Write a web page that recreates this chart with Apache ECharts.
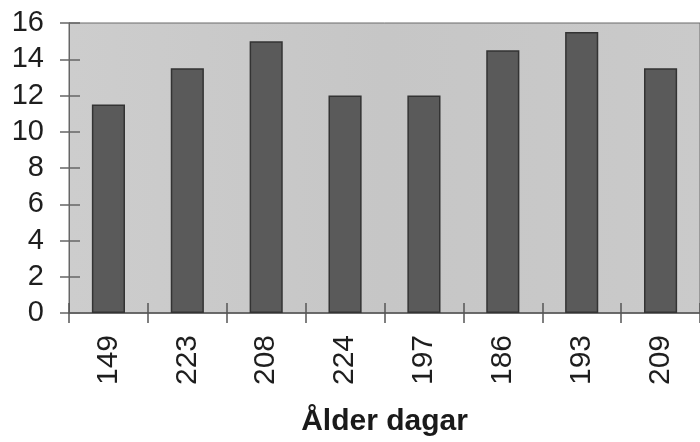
<!DOCTYPE html>
<html>
<head>
<meta charset="utf-8">
<script src="https://cdn.jsdelivr.net/npm/echarts@6/dist/echarts.min.js"></script>
<style>
  html, body { margin: 0; padding: 0; background: #fff; }
  #main { width: 700px; height: 442px; }
</style>
</head>
<body>
<div id="main"></div>
<script>
// ålder (dagar) per individ och stapelvärde
const categories = ["149", "223", "208", "224", "197", "186", "193", "209"];
const values = [11.5, 13.5, 15, 12, 12, 14.5, 15.5, 13.5];
const yTicks = { min: 0, max: 16, interval: 2 };

const myChart = echarts.init(document.querySelector("#main"));

const labelFont = "Liberation Sans, Arial, sans-serif";

const option = {
  animation: false,
  grid: {
    left: 69,
    top: 23,
    width: 638,
    bottom: 129,
    show: true,
    borderColor: "#6a6a6a",
    borderWidth: 1,
    backgroundColor: {
      type: "linear",
      x: 0, y: 0, x2: 1, y2: 0,
      colorStops: [
        { offset: 0, color: "#cdcdcd" },
        { offset: 0.5, color: "#c6c6c6" },
        { offset: 1, color: "#cacaca" },
      ],
    },
  },
  xAxis: [
    {
      type: "category",
      data: categories,
      axisLine: { show: true, lineStyle: { color: "#555", width: 1.5 } },
      axisTick: { show: true, length: 10, lineStyle: { color: "#555", width: 1.5 } },
      axisLabel: {
        rotate: 90,
        margin: 22,
        fontSize: 30,
        color: "#1e1e1e",
        fontFamily: labelFont,
      },
      name: "Ålder dagar",
      nameLocation: "middle",
      nameGap: 94,
      nameTextStyle: {
        fontSize: 30,
        fontWeight: "bold",
        color: "#1a1a1a",
        fontFamily: labelFont,
      },
    },
    {
      type: "category",
      data: categories,
      position: "bottom",
      axisLine: { show: false },
      axisTick: { show: true, inside: true, length: 10, lineStyle: { color: "#555", width: 1.5 } },
      axisLabel: { show: false },
    },
  ],
  yAxis: [
    {
      type: "value",
      min: yTicks.min,
      max: yTicks.max,
      interval: yTicks.interval,
      splitLine: { show: false },
      axisLine: { show: true, lineStyle: { color: "#666", width: 1 } },
      axisTick: { show: true, length: 9, lineStyle: { color: "#666", width: 1.5 } },
      axisLabel: {
        margin: 25,
        fontSize: 29,
        color: "#1e1e1e",
        fontFamily: labelFont,
      },
    },
    {
      type: "value",
      position: "left",
      min: yTicks.min,
      max: yTicks.max,
      interval: yTicks.interval,
      splitLine: { show: false },
      axisLine: { show: false },
      axisTick: { show: true, inside: true, length: 11, lineStyle: { color: "#666", width: 1.5 } },
      axisLabel: { show: false },
    },
  ],
  series: [
    {
      type: "bar",
      data: values,
      barWidth: "42%",
      itemStyle: {
        color: "#5a5a5a",
        borderColor: "#333",
        borderWidth: 1.5,
      },
    },
  ],
};

myChart.setOption(option);
window.addEventListener("resize", () => {
  myChart.resize();
});
</script>
</body>
</html>
